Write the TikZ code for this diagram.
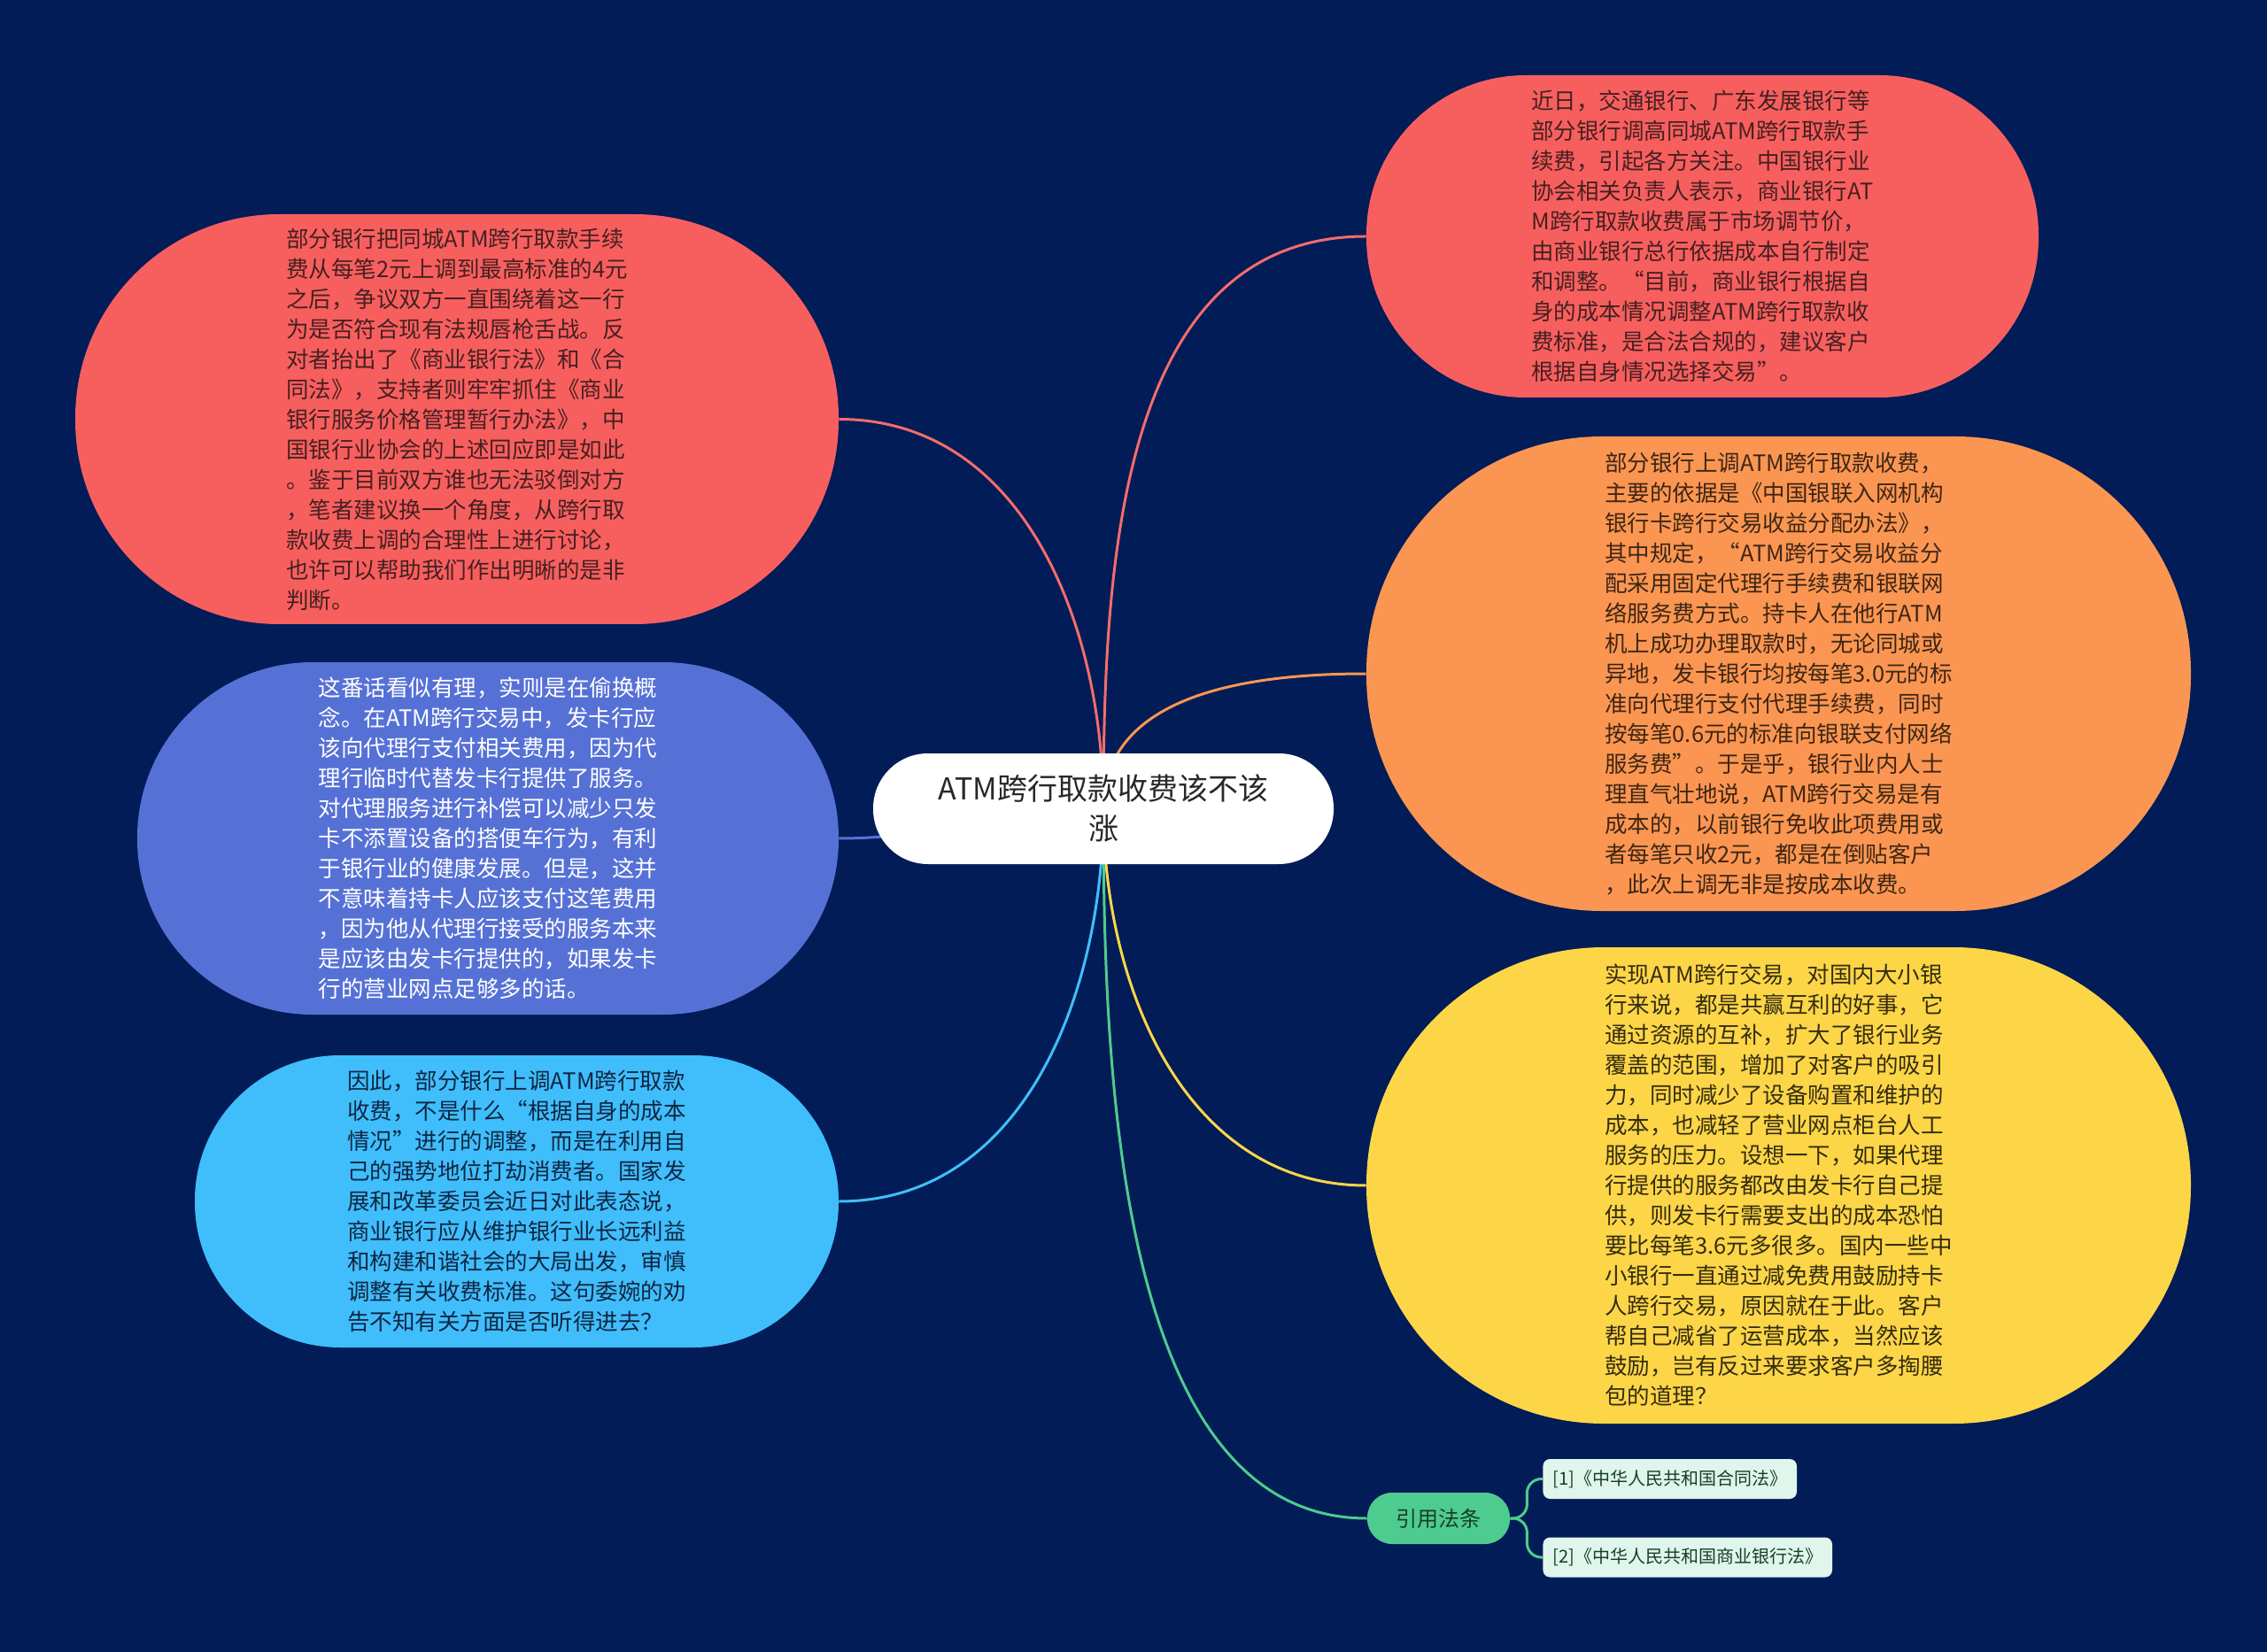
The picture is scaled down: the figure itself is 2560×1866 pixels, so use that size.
\documentclass[tikz,border=0pt]{standalone}
\usepackage{fontspec}
\setmainfont{Noto Sans CJK SC}
\definecolor{bgnavy}{RGB}{1,28,86}
\definecolor{bubred}{RGB}{247,95,95}
\definecolor{bubcoral}{RGB}{244,108,108}
\definecolor{buborange}{RGB}{251,150,82}
\definecolor{bubyellow}{RGB}{253,214,72}
\definecolor{bubblue}{RGB}{86,113,214}
\definecolor{bubsky}{RGB}{64,190,252}
\definecolor{bubgreen}{RGB}{78,203,142}
\definecolor{leafmint}{RGB}{224,245,235}
\definecolor{txtred}{RGB}{70,32,32}
\definecolor{txtorange}{RGB}{62,38,20}
\definecolor{txtyellow}{RGB}{52,44,16}
\definecolor{txtsky}{RGB}{16,38,66}
\definecolor{txtgreen}{RGB}{24,62,44}
\definecolor{txtroot}{RGB}{40,40,40}
\pgfdeclarelayer{bg}
\pgfdeclarelayer{links}
\pgfsetlayers{bg,links,main}

\tikzset{
  bubble/.style 2 args={fill=#1, text=#2, inner sep=0pt, align=left,
    font=\fontsize{12.75pt}{17pt}\selectfont},
  link/.style={draw=#1, line width=1.5pt},
  leaf/.style={fill=leafmint, text=txtgreen, rounded corners=4pt, anchor=west,
    inner xsep=5.5pt, inner ysep=0pt, minimum height=22.5pt,
    font=\fontsize{10pt}{12pt}\selectfont}
}

\begin{document}
\begin{tikzpicture}[x=0.5pt,y=-0.5pt]
\useasboundingbox (0,0) rectangle (2560,1866);
\begin{pgfonlayer}{bg}
\fill[bgnavy] (0,0) rectangle (2560,1866);
\end{pgfonlayer}

% centre
\node[fill=white, text=txtroot, rounded corners=31pt, minimum width=260pt, minimum height=62.5pt,
  inner sep=0pt, align=center, font=\fontsize{17pt}{22.5pt}\selectfont] (root) at (1246,913.5)
  {ATM跨行取款收费该不该\\涨};

% left side
\node[bubble={bubred}{txtred}, minimum width=431pt, minimum height=231.5pt, rounded corners=115pt]
  (debate) at (516,473.5) {部分银行把同城ATM跨行取款手续\\
费从每笔2元上调到最高标准的4元\\
之后，争议双方一直围绕着这一行\\
为是否符合现有法规唇枪舌战。反\\
对者抬出了《商业银行法》和《合\\
同法》，支持者则牢牢抓住《商业\\
银行服务价格管理暂行办法》，中\\
国银行业协会的上述回应即是如此\\
。鉴于目前双方谁也无法驳倒对方\\
，笔者建议换一个角度，从跨行取\\
款收费上调的合理性上进行讨论，\\
也许可以帮助我们作出明晰的是非\\
判断。};

\node[bubble={bubblue}{white}, minimum width=396pt, minimum height=199pt, rounded corners=99pt]
  (concept) at (551,947) {这番话看似有理，实则是在偷换概\\
念。在ATM跨行交易中，发卡行应\\
该向代理行支付相关费用，因为代\\
理行临时代替发卡行提供了服务。\\
对代理服务进行补偿可以减少只发\\
卡不添置设备的搭便车行为，有利\\
于银行业的健康发展。但是，这并\\
不意味着持卡人应该支付这笔费用\\
，因为他从代理行接受的服务本来\\
是应该由发卡行提供的，如果发卡\\
行的营业网点足够多的话。};

\node[bubble={bubsky}{txtsky}, minimum width=363.5pt, minimum height=165pt, rounded corners=82pt]
  (advice) at (583.5,1357) {因此，部分银行上调ATM跨行取款\\
收费，不是什么“根据自身的成本\\
情况”进行的调整，而是在利用自\\
己的强势地位打劫消费者。国家发\\
展和改革委员会近日对此表态说，\\
商业银行应从维护银行业长远利益\\
和构建和谐社会的大局出发，审慎\\
调整有关收费标准。这句委婉的劝\\
告不知有关方面是否听得进去？};

% right side
\node[bubble={bubred}{txtred}, minimum width=379.5pt, minimum height=182pt, rounded corners=90pt]
  (news) at (1922.5,267) {近日，交通银行、广东发展银行等\\
部分银行调高同城ATM跨行取款手\\
续费，引起各方关注。中国银行业\\
协会相关负责人表示，商业银行AT\\
M跨行取款收费属于市场调节价，\\
由商业银行总行依据成本自行制定\\
和调整。“目前，商业银行根据自\\
身的成本情况调整ATM跨行取款收\\
费标准，是合法合规的，建议客户\\
根据自身情况选择交易”。};

\node[bubble={buborange}{txtorange}, minimum width=465.5pt, minimum height=268pt, rounded corners=133pt]
  (basis) at (2008.5,761) {部分银行上调ATM跨行取款收费，\\
主要的依据是《中国银联入网机构\\
银行卡跨行交易收益分配办法》，\\
其中规定，“ATM跨行交易收益分\\
配采用固定代理行手续费和银联网\\
络服务费方式。持卡人在他行ATM\\
机上成功办理取款时，无论同城或\\
异地，发卡银行均按每笔3.0元的标\\
准向代理行支付代理手续费，同时\\
按每笔0.6元的标准向银联支付网络\\
服务费”。于是乎，银行业内人士\\
理直气壮地说，ATM跨行交易是有\\
成本的，以前银行免收此项费用或\\
者每笔只收2元，都是在倒贴客户\\
，此次上调无非是按成本收费。};

\node[bubble={bubyellow}{txtyellow}, minimum width=465.5pt, minimum height=269pt, rounded corners=134pt]
  (winwin) at (2008.5,1339) {实现ATM跨行交易，对国内大小银\\
行来说，都是共赢互利的好事，它\\
通过资源的互补，扩大了银行业务\\
覆盖的范围，增加了对客户的吸引\\
力，同时减少了设备购置和维护的\\
成本，也减轻了营业网点柜台人工\\
服务的压力。设想一下，如果代理\\
行提供的服务都改由发卡行自己提\\
供，则发卡行需要支出的成本恐怕\\
要比每笔3.6元多很多。国内一些中\\
小银行一直通过减免费用鼓励持卡\\
人跨行交易，原因就在于此。客户\\
帮自己减省了运营成本，当然应该\\
鼓励，岂有反过来要求客户多掏腰\\
包的道理？};

% citations
\node[fill=bubgreen, text=txtgreen, rounded corners=14pt, minimum width=80.5pt, minimum height=29pt,
  inner sep=0pt, font=\fontsize{12pt}{14pt}\selectfont] (cite) at (1624.5,1715) {引用法条};
\node[leaf] (law1) at (1742,1670.5) {[1]《中华人民共和国合同法》};
\node[leaf] (law2) at (1742,1759) {[2]《中华人民共和国商业银行法》};

\begin{pgfonlayer}{links}
\draw[link=bubcoral] (root.center) to[out=90,in=0] (debate.east);
\draw[link=bubblue] (root.center) to[out=180,in=0] (concept.east);
\draw[link=bubsky] (root.center) to[out=-90,in=0] (advice.east);
\draw[link=bubcoral] (root.center) to[out=90,in=180] (news.west);
\draw[link=buborange] (root.center) to[out=90,in=180] (basis.west);
\draw[link=bubyellow] (root.center) to[out=-90,in=180] (winwin.west);
\draw[link=bubgreen] (root.center) to[out=-90,in=180,looseness=0.85] (cite.west);
\draw[link=bubgreen, rounded corners=8pt] (cite.east) -- ++(19,0) |- (law1.west);
\draw[link=bubgreen, rounded corners=8pt] (cite.east) -- ++(19,0) |- (law2.west);
\end{pgfonlayer}
\end{tikzpicture}
\end{document}
